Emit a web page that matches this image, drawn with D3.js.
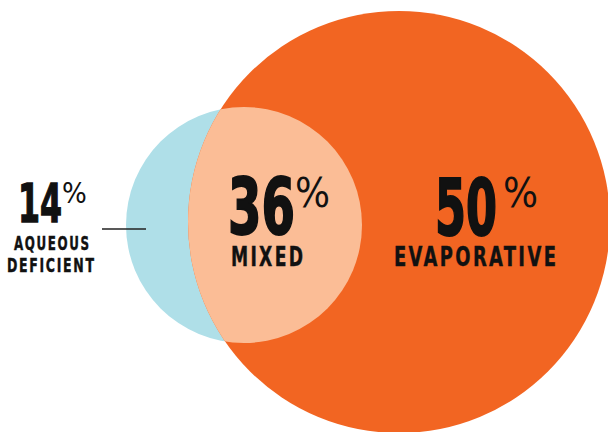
<!DOCTYPE html>
<html>
<head>
<meta charset="utf-8">
<script src="https://cdn.jsdelivr.net/npm/d3@7"></script>
<style>
  html, body { margin: 0; padding: 0; background: #fff; }
  svg { display: block; }
  text { font-family: "Liberation Sans Narrow", "DejaVu Sans Condensed", sans-serif; font-weight: bold; fill: #111; }
</style>
</head>
<body>
<script>
// dry eye types, share of patients
const groups = ["aqueous", "mixed", "evaporative"];
const shares = [14, 36, 50];
const names = [["AQUEOUS", "DEFICIENT"], ["MIXED"], ["EVAPORATIVE"]];

const width = 608, height = 432;
const colors = { aqueous: "#afdfe8", mixed: "#fbbd96", evaporative: "#f26522" };

let svg = d3.select("body").append("svg")
  .attr("width", width)
  .attr("height", height);

// circles: small = aqueous side, big = evaporative side
const small = { cx: 244, cy: 225, r: 118 };
const big = { cx: 399, cy: 222, r: 211 };

svg.append("defs").append("clipPath").attr("id", "bigClip")
  .append("circle").attr("cx", big.cx).attr("cy", big.cy).attr("r", big.r);

svg.append("circle").attr("cx", small.cx).attr("cy", small.cy).attr("r", small.r)
  .attr("fill", colors.aqueous);
svg.append("circle").attr("cx", big.cx).attr("cy", big.cy).attr("r", big.r)
  .attr("fill", colors.evaporative);
svg.append("circle").attr("cx", small.cx).attr("cy", small.cy).attr("r", small.r)
  .attr("fill", colors.mixed)
  .attr("clip-path", "url(#bigClip)");

// squeeze a text horizontally so it spans w pixels from x
function fitText(parent, str, x, y, size, w, stroke, spacing) {
  let t = parent.append("text")
    .attr("font-size", size)
    .attr("letter-spacing", spacing || 0)
    .attr("stroke", "#111")
    .attr("stroke-width", stroke)
    .text(str);
  let len = t.node().getComputedTextLength() - (spacing || 0);
  t.attr("transform", `translate(${x},${y}) scale(${w / len},1)`);
  return t;
}

// label layout per group
const layout = [
  { x: 18, numY: 222, numSize: 54, numW: 44, pctX: 62, pctY: 203, pctSize: 29,
    lineY: [250, 272], lineSize: 19, lineX: [14, 7], lineW: [75, 87] },
  { x: 228, numY: 234, numSize: 78, numW: 67, pctX: 295, pctY: 207, pctSize: 41,
    lineY: [266], lineSize: 26, lineX: [231], lineW: [72] },
  { x: 435, numY: 235, numSize: 78, numW: 62, pctX: 503, pctY: 207, pctSize: 41,
    lineY: [266], lineSize: 26, lineX: [394], lineW: [162] }
];

groups.forEach((g, i) => {
  const l = layout[i];
  const grp = svg.append("g").attr("class", g);
  fitText(grp, shares[i], l.x, l.numY, l.numSize, l.numW, l.numSize / 40, 0);
  grp.append("text")
    .attr("x", l.pctX).attr("y", l.pctY)
    .attr("font-size", l.pctSize)
    .style("font-weight", "normal")
    .text("%");
  names[i].forEach((n, j) => {
    fitText(grp, n, l.lineX[j], l.lineY[j], l.lineSize, l.lineW[j], 0.4, l.lineSize * 0.12);
  });
});

// leader line for aqueous deficient
svg.append("line")
  .attr("x1", 102).attr("x2", 146)
  .attr("y1", 229).attr("y2", 229)
  .attr("stroke", "#222").attr("stroke-width", 1.3);
</script>
</body>
</html>
